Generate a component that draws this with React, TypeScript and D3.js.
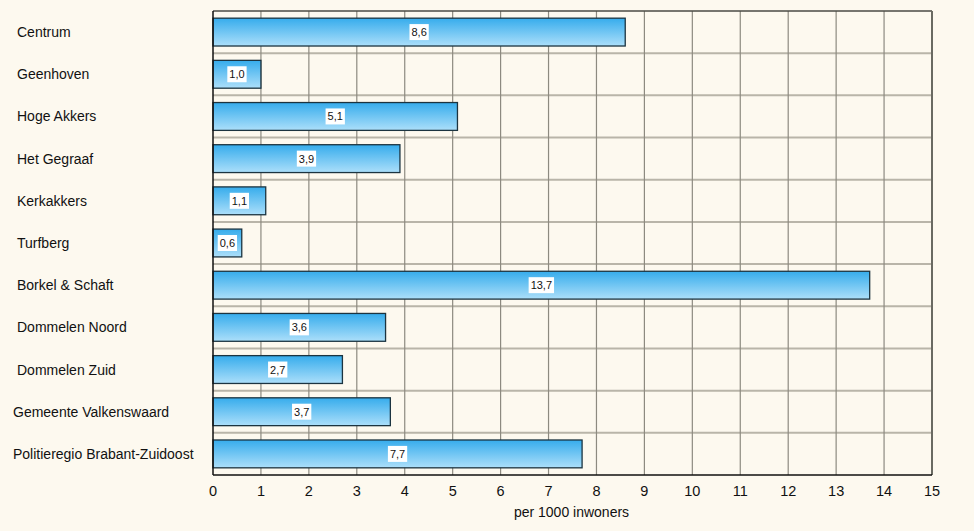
import React from "react";
import * as d3 from "d3";

const categories = [
  "Centrum",
  "Geenhoven",
  "Hoge Akkers",
  "Het Gegraaf",
  "Kerkakkers",
  "Turfberg",
  "Borkel & Schaft",
  "Dommelen Noord",
  "Dommelen Zuid",
  "Gemeente Valkenswaard",
  "Politieregio Brabant-Zuidoost",
];
const values = [8.6, 1.0, 5.1, 3.9, 1.1, 0.6, 13.7, 3.6, 2.7, 3.7, 7.7];
const xTicks = d3.range(0, 16);
const axisTitle = "per 1000 inwoners";

const W = 974;
const H = 531;
const M = { left: 213, right: 932, top: 11, bottom: 475 };
const FONT = "'Liberation Sans', Arial, sans-serif";

function fmt(v: number) {
  return v.toFixed(1).replace(".", ",");
}
function textW(s: string, size: number) {
  let w = 0;
  for (const c of s) w += c === "," ? 0.278 : 0.556;
  return w * size;
}

export default function App() {
  const x = d3.scaleLinear().domain([0, 15]).range([M.left, M.right]);
  const y = d3
    .scaleBand<string>()
    .domain(categories)
    .range([M.top, M.bottom])
    .paddingInner(0.34)
    .paddingOuter(0.17);
  const step = y.step();
  const bw = y.bandwidth();
  const rowBounds = d3.range(1, categories.length).map((i) => M.top + i * step);

  return (
    <svg
      width={W}
      height={H}
      style={{ position: "absolute", left: 0, top: 0, display: "block" }}
    >
      <defs>
        <linearGradient id="barGrad" x1="0" y1="0" x2="0" y2="1">
          <stop offset="0" stopColor="#36acec" />
          <stop offset="1" stopColor="#acdffa" />
        </linearGradient>
      </defs>
      <rect x={0} y={0} width={W} height={H} fill="#fdf9ef" />
      {/* horizontal grid */}
      {rowBounds.map((yy, i) => (
        <line
          key={"h" + i}
          x1={M.left}
          x2={M.right}
          y1={yy}
          y2={yy}
          stroke="#b9b5a9"
          strokeWidth={2}
        />
      ))}
      {/* vertical grid */}
      {xTicks.slice(1, -1).map((t) => (
        <line
          key={"v" + t}
          x1={x(t)}
          x2={x(t)}
          y1={M.top}
          y2={M.bottom}
          stroke="#8d8a80"
          strokeWidth={1.2}
        />
      ))}
      {/* frame */}
      <line x1={M.left} x2={M.right} y1={M.top} y2={M.top} stroke="#4a4a44" strokeWidth={1.5} />
      <line x1={M.right} x2={M.right} y1={M.top} y2={M.bottom} stroke="#6a6a62" strokeWidth={2} />
      {/* bars */}
      {categories.map((c, i) => (
        <rect
          key={"b" + c}
          x={x(0)}
          y={y(c)!}
          width={x(values[i]) - x(0)}
          height={bw}
          fill="url(#barGrad)"
          stroke="#1c3440"
          strokeWidth={1.3}
        />
      ))}
      {/* axes */}
      <line x1={M.left} x2={M.left} y1={M.top} y2={M.bottom} stroke="#111" strokeWidth={1.5} />
      <line x1={M.left} x2={M.right} y1={M.bottom} y2={M.bottom} stroke="#111" strokeWidth={1.5} />
      {/* value labels */}
      {categories.map((c, i) => {
        const s = fmt(values[i]);
        const tw = textW(s, 11);
        const cx = (x(0) + x(values[i])) / 2;
        const cy = y(c)! + bw / 2;
        return (
          <g key={"l" + c}>
            <rect x={cx - tw / 2 - 2} y={cy - 8} width={tw + 4} height={16} fill="#ffffff" />
            <text
              x={cx}
              y={cy + 4}
              textAnchor="middle"
              fontFamily={FONT}
              fontSize={11}
              fill="#111"
            >
              {s}
            </text>
          </g>
        );
      })}
      {/* category labels */}
      {categories.map((c) => (
        <text
          key={"c" + c}
          x={c.length > 20 ? 13 : 17}
          y={y(c)! + bw / 2 + 5}
          fontFamily={FONT}
          fontSize={14}
          fill="#111"
        >
          {c}
        </text>
      ))}
      {/* x tick labels */}
      {xTicks.map((t) => (
        <text
          key={"t" + t}
          x={x(t)}
          y={496}
          textAnchor="middle"
          fontFamily={FONT}
          fontSize={14.5}
          fill="#111"
        >
          {t}
        </text>
      ))}
      <text
        x={(514 + 629) / 2}
        y={517}
        textAnchor="middle"
        fontFamily={FONT}
        fontSize={14}
        fill="#111"
      >
        {axisTitle}
      </text>
    </svg>
  );
}
